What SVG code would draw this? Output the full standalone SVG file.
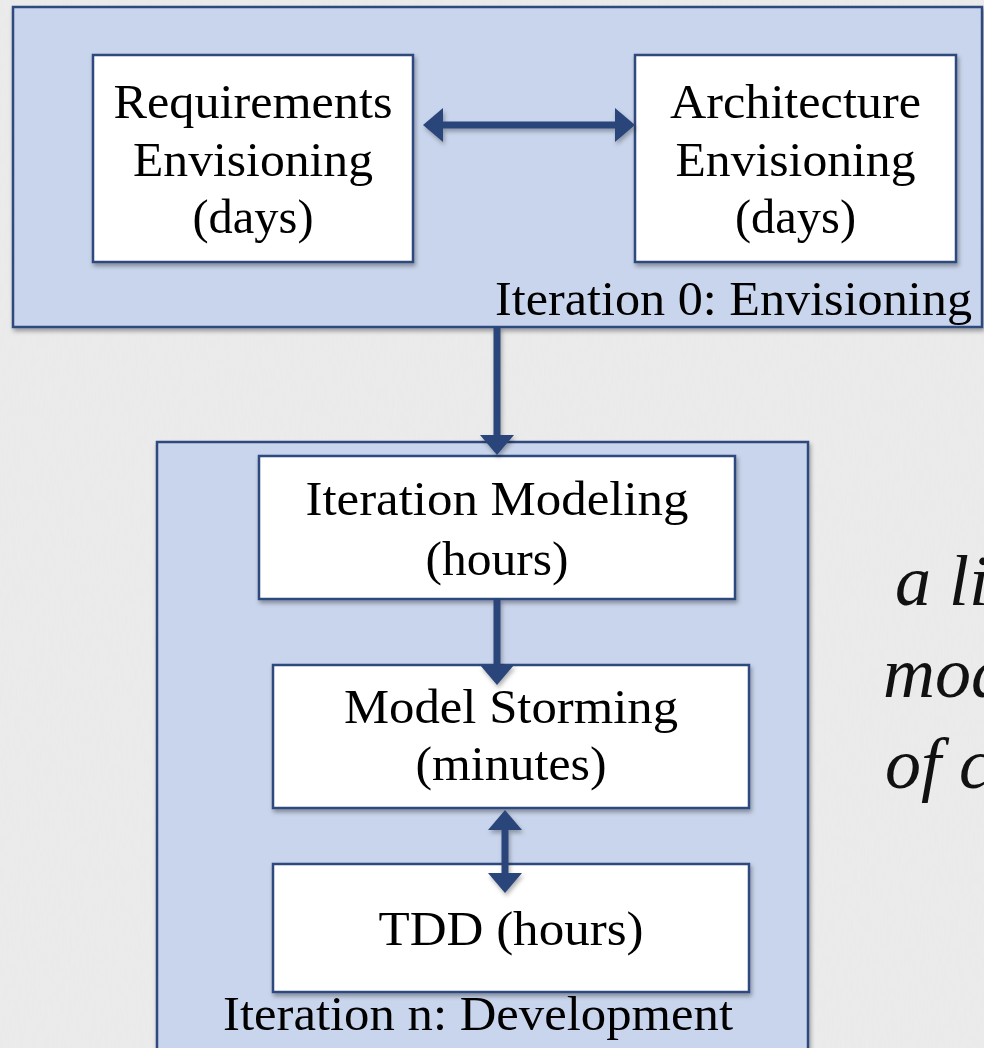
<svg xmlns="http://www.w3.org/2000/svg" width="984" height="1048" viewBox="0 0 984 1048">
  <style>
    .container { fill: #c9d5ec; stroke: #2f4a7e; stroke-width: 2.5; filter: url(#shadow); }
    .box { fill: #ffffff; stroke: #2f4a7e; stroke-width: 2.5; filter: url(#shadow); }
    .label { font-family: "Liberation Serif", "Times New Roman", serif; font-size: 48px; fill: #000000; text-anchor: middle; }
    .note { font-family: "Liberation Serif", "Times New Roman", serif; font-size: 72px; font-style: italic; fill: #111111; }
    .link { fill: none; stroke: #2b4579; stroke-width: 7; }
  </style>
  <defs>
    <filter id="shadow" x="-10%" y="-10%" width="120%" height="130%">
      <feDropShadow dx="1.5" dy="3" stdDeviation="2" flood-color="#000000" flood-opacity="0.35"/>
    </filter>
    <!-- lines have a flat bounding box, so their shadow works in user space -->
    <filter id="link-shadow" filterUnits="userSpaceOnUse" x="0" y="0" width="984" height="1048">
      <feDropShadow dx="1.5" dy="3" stdDeviation="2" flood-color="#000000" flood-opacity="0.3"/>
    </filter>
    <filter id="paper" x="0" y="0" width="100%" height="100%">
      <feTurbulence type="fractalNoise" baseFrequency="0.9 0.06" numOctaves="2" seed="4" result="noise"/>
      <feColorMatrix in="noise" type="matrix" values="0 0 0 0 0.5  0 0 0 0 0.5  0 0 0 0 0.5  0 0 0 0.06 0"/>
    </filter>
    <marker id="head" viewBox="0 0 20 34" refX="2" refY="17" markerWidth="20" markerHeight="34" markerUnits="userSpaceOnUse" orient="auto-start-reverse">
      <path d="M0,0 L20,17 L0,34 z" fill="#2b4579"/>
    </marker>
  </defs>

  <!-- background -->
  <rect x="0" y="0" width="984" height="1048" fill="#ececec"/>
  <rect x="0" y="0" width="984" height="1048" filter="url(#paper)"/>

  <!-- iteration 0 container -->
  <g id="iteration-0">
    <rect class="container" x="13" y="7" width="969" height="320"/>
    <text class="label" x="733.5" y="315" textLength="477" lengthAdjust="spacingAndGlyphs">Iteration 0: Envisioning</text>
  </g>

  <!-- iteration n container -->
  <g id="iteration-n">
    <rect class="container" x="157" y="442" width="651" height="640"/>
    <text class="label" x="478" y="1030" textLength="510" lengthAdjust="spacingAndGlyphs">Iteration n: Development</text>
  </g>

  <g id="requirements-envisioning">
    <rect class="box" x="93" y="55" width="320" height="207"/>
    <text class="label" x="253" y="118" textLength="279" lengthAdjust="spacingAndGlyphs">Requirements</text>
    <text class="label" x="253" y="176" textLength="240" lengthAdjust="spacingAndGlyphs">Envisioning</text>
    <text class="label" x="253" y="233" textLength="121" lengthAdjust="spacingAndGlyphs">(days)</text>
  </g>

  <g id="architecture-envisioning">
    <rect class="box" x="635" y="55" width="321" height="207"/>
    <text class="label" x="795.5" y="118" textLength="251" lengthAdjust="spacingAndGlyphs">Architecture</text>
    <text class="label" x="795.5" y="176" textLength="240" lengthAdjust="spacingAndGlyphs">Envisioning</text>
    <text class="label" x="795.5" y="233" textLength="121" lengthAdjust="spacingAndGlyphs">(days)</text>
  </g>

  <g id="iteration-modeling">
    <rect class="box" x="259" y="456" width="476" height="143"/>
    <text class="label" x="497" y="515" textLength="383" lengthAdjust="spacingAndGlyphs">Iteration Modeling</text>
    <text class="label" x="497" y="575" textLength="143" lengthAdjust="spacingAndGlyphs">(hours)</text>
  </g>

  <g id="model-storming">
    <rect class="box" x="273" y="665" width="476" height="143"/>
    <text class="label" x="511" y="723" textLength="334" lengthAdjust="spacingAndGlyphs">Model Storming</text>
    <text class="label" x="511" y="780" textLength="191" lengthAdjust="spacingAndGlyphs">(minutes)</text>
  </g>

  <g id="tdd">
    <rect class="box" x="273" y="864" width="476" height="128"/>
    <text class="label" x="511" y="945" textLength="265" lengthAdjust="spacingAndGlyphs">TDD (hours)</text>
  </g>

  <!-- side note, running off the right edge -->
  <g id="note">
    <text class="note" x="895" y="605">a li</text>
    <text class="note" x="883" y="697">mod</text>
    <text class="note" x="885" y="788">of c</text>
  </g>

  <!-- connectors -->
  <g id="connectors" filter="url(#link-shadow)">
    <path class="link" d="M441,125 L617,125" marker-start="url(#head)" marker-end="url(#head)"/>
    <path class="link" d="M497,327 L497,437" marker-end="url(#head)"/>
    <path class="link" d="M497,599 L497,667" marker-end="url(#head)"/>
    <path class="link" d="M505,828 L505,875" marker-start="url(#head)" marker-end="url(#head)"/>
  </g>
</svg>
